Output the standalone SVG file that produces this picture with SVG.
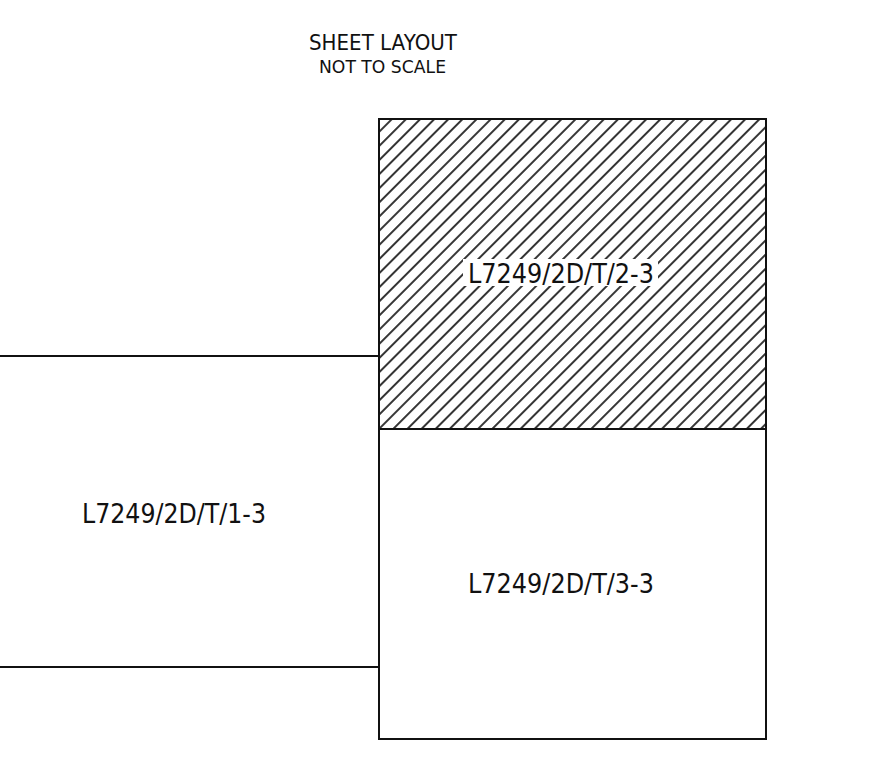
<svg xmlns="http://www.w3.org/2000/svg" width="873" height="764" viewBox="0 0 873 764">
<style>
.frame{fill:none;stroke:#111;stroke-width:2}
.lbl{font-family:"DejaVu Sans","Liberation Sans",sans-serif;fill:#111;text-anchor:middle}
</style>
<defs>
<pattern id="hatch" patternUnits="userSpaceOnUse" width="10" height="10" patternTransform="translate(392,119) rotate(45)">
<line x1="0" y1="-1" x2="0" y2="11" stroke="#111" stroke-width="1.7"/>
<line x1="10" y1="-1" x2="10" y2="11" stroke="#111" stroke-width="1.7"/>
</pattern>
</defs>
<rect width="873" height="764" fill="#fff"/>
<g id="title">
<text class="lbl" x="383" y="50" font-size="22" textLength="148" lengthAdjust="spacingAndGlyphs">SHEET LAYOUT</text>
<text class="lbl" x="382.5" y="73" font-size="18" textLength="127" lengthAdjust="spacingAndGlyphs">NOT TO SCALE</text>
</g>
<g id="sheet-2-3">
<rect x="379" y="119" width="387" height="310" fill="url(#hatch)"/>
<rect x="463" y="259" width="195" height="27" fill="#fff"/>
<rect x="379" y="119" width="387" height="310" class="frame"/>
<text class="lbl" x="561" y="283" font-size="26" textLength="186" lengthAdjust="spacingAndGlyphs">L7249/2D/T/2-3</text>
</g>
<g id="sheet-1-3">
<polyline points="0,356 379,356 379,667 0,667" class="frame"/>
<text class="lbl" x="174" y="523" font-size="26" textLength="184" lengthAdjust="spacingAndGlyphs">L7249/2D/T/1-3</text>
</g>
<g id="sheet-3-3">
<rect x="379" y="429" width="387" height="310" class="frame"/>
<text class="lbl" x="561" y="593" font-size="26" textLength="186" lengthAdjust="spacingAndGlyphs">L7249/2D/T/3-3</text>
</g>
<g id="connectors"></g>
</svg>
